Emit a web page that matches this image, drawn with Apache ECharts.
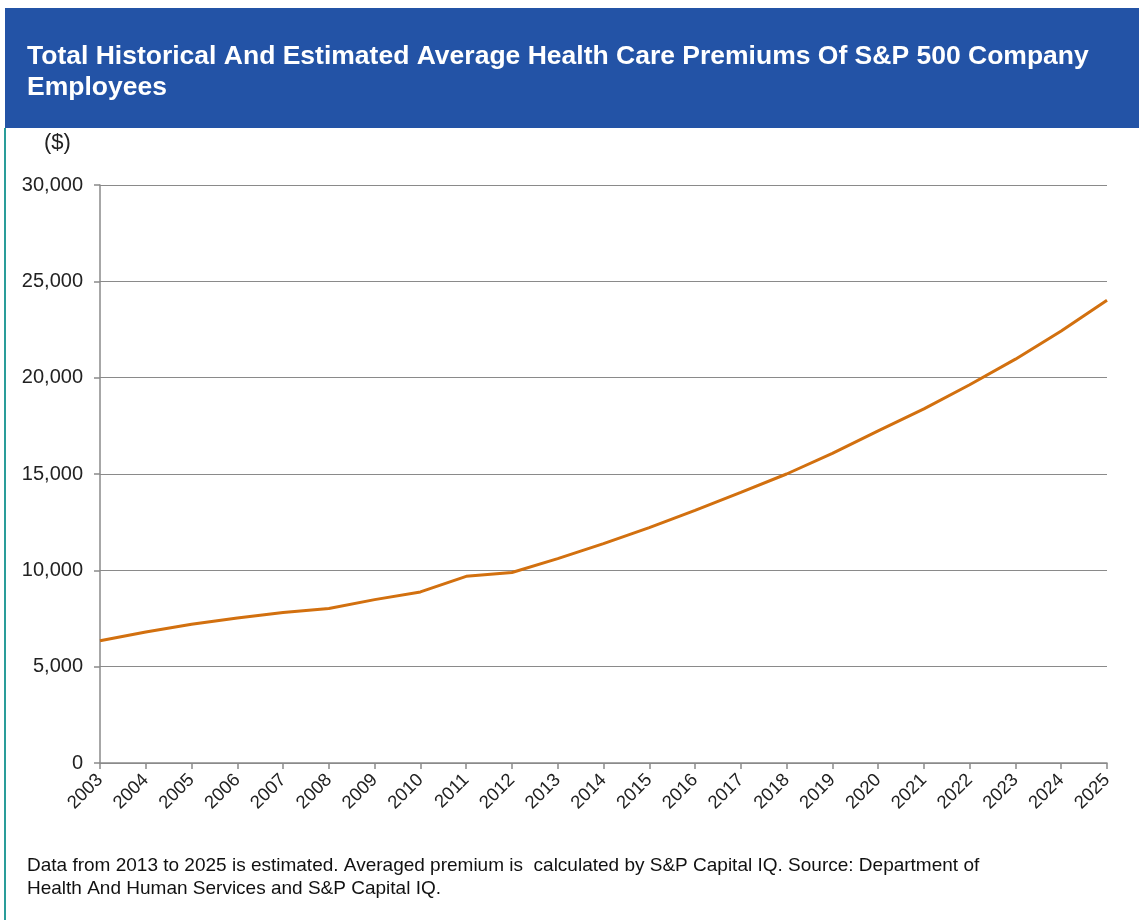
<!DOCTYPE html>
<html><head><meta charset="utf-8">
<script src="https://cdn.jsdelivr.net/npm/echarts@6/dist/echarts.min.js"></script>
<style>html,body{margin:0;padding:0;background:#fff}#c{width:1139px;height:920px}</style>
</head><body><div id="c"></div>
<script>
const years = ['2003','2004','2005','2006','2007','2008','2009','2010','2011','2012','2013','2014','2015','2016','2017','2018','2019','2020','2021','2022','2023','2024','2025'];
const premiums = [6350,6800,7200,7530,7810,8020,8480,8880,9690,9890,10610,11390,12220,13110,14050,15000,16070,17240,18380,19630,20960,22420,24020];
const yTicks = [0,5000,10000,15000,20000,25000,30000];
const titleText = 'Total Historical And Estimated Average Health Care Premiums Of S&P 500 Company\nEmployees';
const unitText = '($)';
const noteText = 'Data from 2013 to 2025 is estimated. Averaged premium is  calculated by S&P Capital IQ. Source: Department of\nHealth And Human Services and S&P Capital IQ.';

const FONT = '"Liberation Sans", Arial, sans-serif';
const chart = echarts.init(document.getElementById('c'), null, {renderer:'canvas'});
chart.setOption({
  animation:false,
  backgroundColor:'#fff',
  graphic:[
    {type:'rect', shape:{x:5,y:8,width:1134,height:120}, style:{fill:'#2353A6'}},
    {type:'rect', shape:{x:4,y:128,width:2,height:792}, style:{fill:'#2A9D9A'}},
    {type:'text', left:27, top:41, style:{text:titleText, fill:'#fff', font:'bold 26.5px ' + FONT, lineHeight:31}},
    {type:'text', left:44, top:132, style:{text:unitText, fill:'#222', font:'22px ' + FONT}},
    {type:'text', left:27, top:855, style:{text:noteText, fill:'#111', font:'19px ' + FONT, lineHeight:22.5}}
  ],
  grid:{left:100, right:32, top:185, bottom:157, containLabel:false},
  xAxis:{
    type:'category', data:years, boundaryGap:false,
    axisLine:{lineStyle:{color:'#8a8a8a', width:1.5}},
    axisTick:{show:true, length:6, alignWithLabel:true, lineStyle:{color:'#8a8a8a', width:1.5}},
    axisLabel:{rotate:45, color:'#222', fontSize:18.5, fontFamily:FONT, margin:14, interval:0}
  },
  yAxis:{
    type:'value', min:0, max:30000, interval:5000,
    axisLine:{show:true, lineStyle:{color:'#8a8a8a', width:1.5}},
    axisTick:{show:true, length:6, lineStyle:{color:'#8a8a8a', width:1.5}},
    splitLine:{show:true, lineStyle:{color:'#8a8a8a', width:1.2}},
    axisLabel:{color:'#222', fontSize:20, fontFamily:FONT, margin:17,
      formatter:v=> yTicks.includes(v) ? v.toLocaleString('en-US') : ''}
  },
  series:[{
    type:'line', data:premiums, showSymbol:false, smooth:false,
    lineStyle:{color:'#D2700F', width:3}, itemStyle:{color:'#D2700F'}
  }]
});
</script></body></html>
